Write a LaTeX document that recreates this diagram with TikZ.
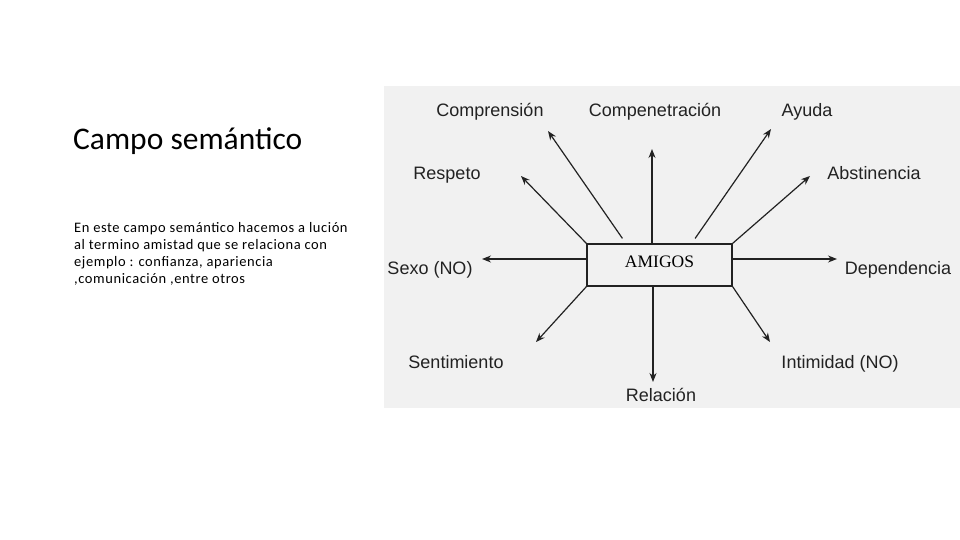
\documentclass[tikz,border=0pt]{standalone}
\usepackage{fontspec}
\setmainfont{Liberation Sans}
\newfontfamily\slidefont{Carlito}
\newfontfamily\bodyfont[LetterSpace=4]{Carlito}
\newfontfamily\boxfont{Liberation Serif}
\usetikzlibrary{arrows.meta,calc}
\definecolor{panelgray}{HTML}{F1F1F1}
\definecolor{inkgray}{HTML}{222222}

\begin{document}
\begin{tikzpicture}[x=1pt,y=-1pt,
  lbl/.style={font=\fontsize{18}{20}\selectfont, inner sep=0pt, text=inkgray, text height=13pt, text depth=0pt},
  ray/.style={-{Stealth[length=9pt,width=7pt]}, line width=1.2pt, draw=inkgray}]
\useasboundingbox (0,0) rectangle (960,540);
\fill [panelgray] (384,86) rectangle (960,408);
% slide text
\node [anchor=west, inner sep=0pt, font=\slidefont\fontsize{31.5}{36}\selectfont] (title) at (73,141) {Campo semántico};
\node [anchor=north west, inner sep=0pt, align=left, font=\bodyfont\fontsize{14.5}{17}\selectfont] (body) at (74,222)
  {En este campo semántico hacemos a lución\\al termino amistad que se relaciona con\\ejemplo : confianza, apariencia\\,comunicación ,entre otros};
% centre box
\node [draw=inkgray, line width=1.3pt, fill=panelgray, minimum width=145, minimum height=42, inner sep=0pt,
  text height=12pt, text depth=7pt, font=\boxfont\fontsize{17.5}{20}\selectfont] (amigos) at (659.5,265) {AMIGOS};
% labels
\node [lbl] (comprension) at (490,110) {Comprensión};
\node [lbl] (compenetracion) at (655,110) {Compenetración};
\node [lbl] (ayuda) at (807,110) {Ayuda};
\node [lbl] (respeto) at (447,173) {Respeto};
\node [lbl] (abstinencia) at (874,173) {Abstinencia};
\node [lbl] (sexo) at (430,268) {Sexo (NO)};
\node [lbl] (dependencia) at (898,268) {Dependencia};
\node [lbl] (sentimiento) at (456,362) {Sentimiento};
\node [lbl] (intimidad) at (840,362) {Intimidad (NO)};
\node [lbl] (relacion) at (661,395) {Relación};
% arrow tips
\coordinate (cmpT) at (548,131);
\coordinate (cpnT) at (652,149);
\coordinate (ayuT) at (771,129);
\coordinate (resT) at (521,176);
\coordinate (absT) at (810,176);
\coordinate (sexT) at (482,259);
\coordinate (depT) at (837,259);
\coordinate (senT) at (536,342);
\coordinate (intT) at (770,342);
\coordinate (relT) at (653,382);
% rays
\draw [ray, shorten <=6pt] ($(amigos.north west)!0.27!(amigos.north east)$) -- (cmpT);
\draw [ray] (amigos.north -| cpnT) -- (cpnT);
\draw [ray, shorten <=6pt] ($(amigos.north west)!0.72!(amigos.north east)$) -- (ayuT);
\draw [ray] (amigos.north west) -- (resT);
\draw [ray] (amigos.north east) -- (absT);
\draw [ray] (amigos.west |- sexT) -- (sexT);
\draw [ray] (amigos.east |- depT) -- (depT);
\draw [ray] (amigos.south west) -- (senT);
\draw [ray] (amigos.south east) -- (intT);
\draw [ray] (amigos.south -| relT) -- (relT);
\end{tikzpicture}
\end{document}
